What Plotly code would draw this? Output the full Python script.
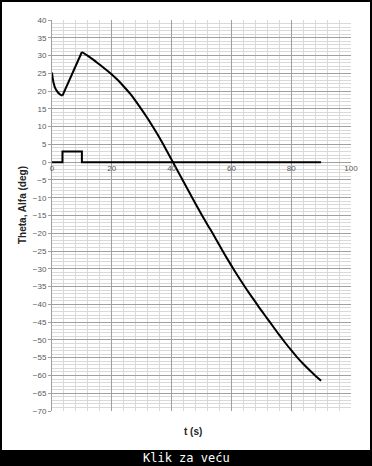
import plotly.graph_objects as go

# ---- data ----
theta_t = [0, 0.25, 0.5, 1, 1.5, 2, 2.5, 3, 3.5, 6.75, 10, 12, 14, 16, 18, 20, 22, 24, 26, 28,
           30, 32, 34, 36, 38, 40, 42, 44, 46, 48, 50, 52, 54, 56, 58, 60, 62, 64, 66, 68,
           70, 72, 74, 76, 78, 80, 82, 84, 86, 88, 90]
theta_v = [25.2, 23.6, 22.4, 21.0, 20.2, 19.6, 19.2, 18.9, 18.7, 24.9, 31.0, 29.9, 28.7, 27.4, 26.1, 24.7, 23.1, 21.3, 19.4, 17.2,
           14.8, 12.3, 9.6, 6.8, 3.8, 0.7, -2.4, -5.5, -8.6, -11.7, -14.7, -17.6, -20.4, -23.4, -26.3, -29.1, -31.8, -34.4, -36.9, -39.3,
           -41.7, -44.0, -46.3, -48.6, -50.8, -52.9, -54.9, -56.7, -58.4, -60.0, -61.5]
alfa_t = [0, 3.5, 3.5, 10, 10, 90]
alfa_v = [0, 0, 3, 3, 0, 0]

x_range = [0, 100]
y_range = [-70, 40]

W, H = 372, 466
L, R, T, B = 52, 21, 20, 55
pw, ph = W - L - R, H - T - B

def px_x(p):
    return (p - L) / pw

def px_y(p):
    return (H - B - p) / ph

fig = go.Figure()
# Theta drawn in pieces so that the corners (dip and peak) stay sharp
i_dip = theta_t.index(3.5)
i_peak = theta_t.index(10)
pieces = [(0, i_dip, "spline"), (i_dip, i_peak, "linear"), (i_peak, len(theta_t) - 1, "spline")]
for a, b, shape in pieces:
    fig.add_trace(go.Scatter(x=theta_t[a:b + 1], y=theta_v[a:b + 1], mode="lines",
                             line=dict(color="black", width=2, shape=shape, smoothing=0.8),
                             name="Theta", showlegend=False))
fig.add_trace(go.Scatter(x=alfa_t, y=alfa_v, mode="lines",
                         line=dict(color="black", width=2), name="Alfa"))

tickfont = dict(family="Liberation Sans, Arial, sans-serif", size=8, color="#595959")
zero_pos = (0 - y_range[0]) / (y_range[1] - y_range[0])

fig.update_layout(
    width=W, height=H,
    margin=dict(l=L, r=R, t=T, b=B),
    paper_bgcolor="white", plot_bgcolor="white",
    showlegend=False,
    xaxis=dict(range=x_range, dtick=20, tick0=0, anchor="free", position=zero_pos,
               showgrid=True, gridcolor="#a0a0a0", gridwidth=1,
               minor=dict(dtick=4, showgrid=True, gridcolor="#d9d9d9", gridwidth=1),
               zeroline=False, showline=False, ticks="", tickfont=tickfont,
               fixedrange=True),
    yaxis=dict(range=y_range, dtick=5, tick0=0,
               showgrid=True, gridcolor="#a0a0a0", gridwidth=1,
               minor=dict(dtick=1, showgrid=True, gridcolor="#d9d9d9", gridwidth=1),
               zeroline=False, showline=True, linecolor="#a0a0a0",
               ticks="outside", ticklen=3, tickcolor="#a0a0a0",
               tickfont=tickfont, fixedrange=True),
)

titlefont = dict(family="Liberation Sans, Arial, sans-serif", size=10, color="#262626")
fig.add_annotation(text="<b>Theta, Alfa (deg)</b>", xref="paper", yref="paper",
                   x=px_x(22), y=px_y(205), textangle=-90, showarrow=False,
                   font=titlefont, xanchor="center", yanchor="middle")
fig.add_annotation(text="<b>t (s)</b>", xref="paper", yref="paper",
                   x=px_x(193), y=px_y(431), showarrow=False,
                   font=titlefont, xanchor="center", yanchor="middle")

# bottom black caption bar and outer frame
fig.add_shape(type="rect", xref="paper", yref="paper",
              x0=px_x(0), x1=px_x(W), y0=px_y(450), y1=px_y(H),
              fillcolor="black", line=dict(width=0), layer="above")
fig.add_shape(type="rect", xref="paper", yref="paper",
              x0=px_x(1), x1=px_x(W - 1), y0=px_y(1), y1=px_y(H - 1),
              line=dict(color="black", width=2), fillcolor="rgba(0,0,0,0)", layer="above")
fig.add_annotation(text="Klik za veću", xref="paper", yref="paper",
                   x=px_x(186), y=px_y(458), showarrow=False,
                   font=dict(family="DejaVu Sans Mono, monospace", size=12, color="white"),
                   xanchor="center", yanchor="middle")

fig.write_html("out.html", config={"displayModeBar": False},
               post_script="document.body.style.margin='0';document.body.style.overflow='hidden';")
